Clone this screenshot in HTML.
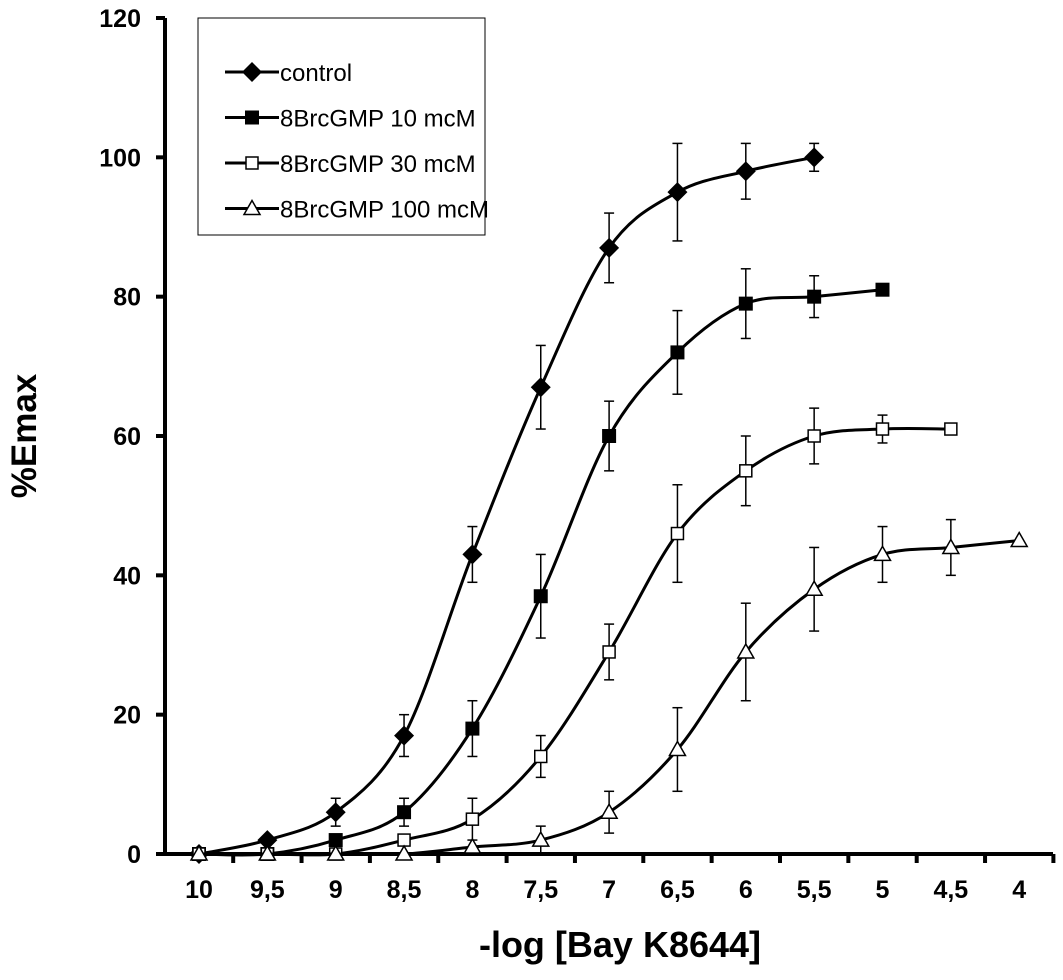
<!DOCTYPE html>
<html><head><meta charset="utf-8"><style>
body{margin:0;background:#fff;}
text{font-family:"Liberation Sans",Arial,sans-serif;font-weight:bold;fill:#000;}
</style></head><body>
<svg id="chart" width="1063" height="975" xmlns="http://www.w3.org/2000/svg"></svg>
<script>
const xCats = [10,9.5,9,8.5,8,7.5,7,6.5,6,5.5,5,4.5,4];
const xTickLabels = ["10","9,5","9","8,5","8","7,5","7","6,5","6","5,5","5","4,5","4"];
const yTicks = [0,20,40,60,80,100,120];
const seriesNames = ["control","8BrcGMP 10 mcM","8BrcGMP 30 mcM","8BrcGMP 100 mcM"];
const controlX = [10,9.5,9,8.5,8,7.5,7,6.5,6,5.5];
const controlY = [0,2,6,17,43,67,87,95,98,100];
const controlE = [0,0,2,3,4,6,5,7,4,2];
const s10X = [10,9.5,9,8.5,8,7.5,7,6.5,6,5.5,5];
const s10Y = [0,0,2,6,18,37,60,72,79,80,81];
const s10E = [0,0,0,2,4,6,5,6,5,3,0];
const s30X = [10,9.5,9,8.5,8,7.5,7,6.5,6,5.5,5,4.5];
const s30Y = [0,0,0,2,5,14,29,46,55,60,61,61];
const s30E = [0,0,0,0,3,3,4,7,5,4,2,0];
const s100X = [10,9.5,9,8.5,8,7.5,7,6.5,6,5.5,5,4.5,4];
const s100Y = [0,0,0,0,1,2,6,15,29,38,43,44,45];
const s100E = [0,0,0,0,0,2,3,6,7,6,4,4,0];

const NS="http://www.w3.org/2000/svg";
const svg=document.getElementById('chart');
function el(t,a,p){const e=document.createElementNS(NS,t);for(const k in a)e.setAttribute(k,a[k]);(p||svg).appendChild(e);return e;}
const xs=v=>199+(10-v)/0.5*68.35;
const ys=v=>854-v*(836/120);

const axes=el('g',{});


el('line',{x1:165,y1:18,x2:165,y2:856,stroke:'#000','stroke-width':4},axes);
el('line',{x1:163,y1:854,x2:1053,y2:854,stroke:'#000','stroke-width':4},axes);
yTicks.forEach(v=>{
  el('line',{x1:156,x2:165,y1:ys(v),y2:ys(v),stroke:'#000','stroke-width':4},axes);
  const t=el('text',{x:141,y:ys(v)+9,'text-anchor':'end','font-size':25},axes);
  t.textContent=v;
  
  
});
xCats.forEach((v,i)=>{
  const tx=xs(v)+34.2;
  el('line',{x1:tx,x2:tx,y1:854,y2:863,stroke:'#000','stroke-width':4},axes);
  const t=el('text',{x:xs(v),y:898,'text-anchor':'middle','font-size':25},axes);
  t.textContent=xTickLabels[i];
  
  
});
const yt=el('text',{x:0,y:0,'text-anchor':'middle','font-size':35,transform:'translate(36,436) rotate(-90)'});
yt.textContent='%Emax';


const xt=el('text',{x:620,y:957,'text-anchor':'middle','font-size':36});
xt.textContent='-log [Bay K8644]';



function path(pts){
  let d=`M${pts[0][0]},${pts[0][1]}`;
  for(let i=0;i<pts.length-1;i++){
    const p0=pts[Math.max(0,i-1)],p1=pts[i],p2=pts[i+1],p3=pts[Math.min(pts.length-1,i+2)];
    const c1=[p1[0]+(p2[0]-p0[0])/6,p1[1]+(p2[1]-p0[1])/6];
    const c2=[p2[0]-(p3[0]-p1[0])/6,p2[1]-(p3[1]-p1[1])/6];
    d+=`C${c1[0]},${c1[1]} ${c2[0]},${c2[1]} ${p2[0]},${p2[1]}`;
  }
  return d;
}
function marker(g,type,x,y){
  if(type==='diamond') el('polygon',{points:`${x},${y-10} ${x+10},${y} ${x},${y+10} ${x-10},${y}`,fill:'#000'},g);
  else if(type==='fsquare') el('rect',{x:x-7,y:y-7,width:14,height:14,fill:'#000'},g);
  else if(type==='osquare') el('rect',{x:x-6,y:y-6,width:12,height:12,fill:'#fff',stroke:'#000','stroke-width':1.5},g);
  else el('polygon',{points:`${x},${y-8} ${x+8},${y+6} ${x-8},${y+6}`,fill:'#fff',stroke:'#000','stroke-width':1.5},g);
}
const series=[[controlX,controlY,controlE,'diamond','series-control'],[s10X,s10Y,s10E,'fsquare','series-10mcm'],[s30X,s30Y,s30E,'osquare','series-30mcm'],[s100X,s100Y,s100E,'triangle','series-100mcm']];
series.forEach(([X,Y,E,m,name])=>{
  const g=el('g',{});
  
  
  X.forEach((x,i)=>{ if(E[i]>0){
    const px=xs(x),t=ys(Y[i]+E[i]),b=ys(Y[i]-E[i]);
    el('line',{x1:px,x2:px,y1:t,y2:b,stroke:'#000','stroke-width':1.5},g);
    el('line',{x1:px-5,x2:px+5,y1:t,y2:t,stroke:'#000','stroke-width':1.5},g);
    el('line',{x1:px-5,x2:px+5,y1:b,y2:b,stroke:'#000','stroke-width':1.5},g);
  }});
  el('path',{d:path(X.map((x,i)=>[xs(x),ys(Y[i])])),fill:'none',stroke:'#000','stroke-width':3},g);
  X.forEach((x,i)=>marker(g,m,xs(x),ys(Y[i])));
});

const lg=el('g',{});


el('rect',{x:198,y:18,width:287,height:217,fill:'#fff',stroke:'#000','stroke-width':1},lg);
const types=['diamond','fsquare','osquare','triangle'];
seriesNames.forEach((n,i)=>{
  const y=72+i*45.5;
  const eg=el('g',{},lg);
  
  
  el('line',{x1:225,x2:279,y1:y,y2:y,stroke:'#000','stroke-width':3},eg);
  marker(eg,types[i],252,y);
  const t=el('text',{x:280,y:y+9,'font-size':24,style:'font-weight:normal'},eg);
  t.textContent=n;
});
</script>
</body></html>
